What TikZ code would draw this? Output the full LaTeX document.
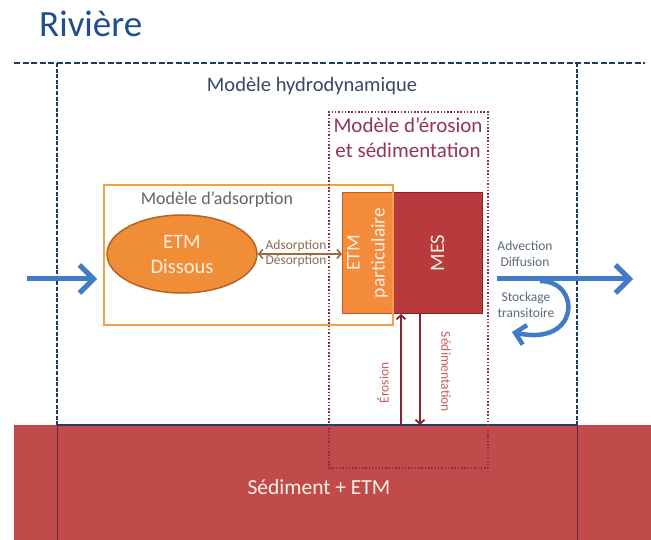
\documentclass[tikz,border=0pt]{standalone}
\usepackage{fontspec}
\setmainfont{Carlito}
\usetikzlibrary{arrows.meta,shapes.geometric,calc}
\definecolor{titleblue}{HTML}{1F4E8C}
\definecolor{hydrotext}{HTML}{3A4663}
\definecolor{dashblue}{HTML}{23396E}
\definecolor{erosdot}{HTML}{8B2E44}
\definecolor{erostext}{HTML}{94364E}
\definecolor{adsline}{HTML}{F5A04A}
\definecolor{adstext}{HTML}{6A625E}
\definecolor{dissfill}{HTML}{F08E38}
\definecolor{dissdraw}{HTML}{B8621E}
\definecolor{etmfill}{HTML}{F58C3C}
\definecolor{mesfill}{HTML}{B83A3C}
\definecolor{mesdraw}{HTML}{8A2028}
\definecolor{sedfill}{HTML}{C04B4A}
\definecolor{sedline}{HTML}{5A2A3A}
\definecolor{brownarr}{HTML}{9A6B3E}
\definecolor{browntext}{HTML}{8C6A52}
\definecolor{bluearr}{HTML}{3F7BC6}
\definecolor{advtext}{HTML}{5C6A7E}
\definecolor{eroarr}{HTML}{8E1F2F}
\definecolor{erolabel}{HTML}{C0605C}
\definecolor{paletext}{HTML}{FFF0E4}
\tikzset{
  fs/.style 2 args={font=\fontsize{#1}{#2}\selectfont},
  dashframe/.style={draw=dashblue, line width=1.5pt, dash pattern=on 4pt off 1.6pt},
  topdash/.style={draw=dashblue, line width=2pt, dash pattern=on 6pt off 2.5pt},
  dotbox/.style={draw=erosdot, line width=2pt, dash pattern=on 1.5pt off 1.8pt},
  bigblue/.style={draw=bluearr, line width=5pt, -{Straight Barb[length=14pt,width=28pt]}},
  curveblue/.style={draw=bluearr, line width=4.5pt, -{Straight Barb[length=10pt,width=20pt]}},
  adsarrow/.style={draw=brownarr, line width=1.6pt, {Straight Barb[length=4pt,width=9pt]}-{Straight Barb[length=4pt,width=9pt]}},
  eroarrow/.style={draw=eroarr, line width=1.8pt, -{Straight Barb[length=4pt,width=9pt]}},
  smalltext/.style={inner sep=0pt, font=\fontsize{13.5}{14}\selectfont},
}
\begin{document}
\begin{tikzpicture}[x=1pt,y=-1pt]
\useasboundingbox (0,0) rectangle (651,540);
\fill[white] (0,0) rectangle (651,540);

% sediment layer
\fill[sedfill] (14,425) rectangle (651,540);
\draw[dashblue, line width=1.2pt] (57,425) -- (577,425);
\draw[sedline, line width=1pt] (57,425) -- (57,540);
\draw[sedline, line width=1pt] (577,425) -- (577,540);
\node[text=paletext, inner sep=0pt, fs={21.5}{25}] (sed) at (319,487) {Sédiment + ETM};

% frame
\draw[topdash] (14,63) -- (645,63);
\draw[dashframe] (57,63) -- (57,425);
\draw[dashframe] (577,63) -- (577,425);

% title
\node[text=titleblue, inner sep=0pt, anchor=base west, fs={37}{40}] (title) at (39,37) {Rivière};
\node[text=hydrotext, inner sep=0pt, fs={20.5}{24}] (hydro) at (312,86) {Modèle hydrodynamique};

% erosion model label
\node[text=erostext, inner sep=0pt, align=center, fs={21}{25}] (eros) at (408,138) {Modèle d’érosion\\et sédimentation};

% adsorption model
\node[text=adstext, inner sep=0pt, fs={18}{22}] (adsl) at (217,200) {Modèle d’adsorption};
\node[ellipse, fill=dissfill, draw=dissdraw, line width=1.5pt, minimum width=150pt, minimum height=78pt, inner sep=0pt] (diss) at (182,254) {};
\node[text=paletext, align=center, inner sep=0pt, fs={20.5}{25}] (disst) at (diss.center) {ETM\\Dissous};

% ETM particulaire and MES boxes
\node[fill=etmfill, draw=dissdraw, line width=1pt, minimum width=50pt, minimum height=121pt, inner sep=0pt, anchor=north west] (etm) at (342,192) {};
\node[fill=mesfill, draw=mesdraw, line width=1pt, minimum width=90pt, minimum height=121pt, inner sep=0pt, anchor=north west] (mes) at (392,192) {};
\node[rotate=90, text=paletext, align=center, inner sep=0pt, fs={19.5}{25}] (etmt) at (etm.center) {ETM\\particulaire};
\node[rotate=90, text=paletext, inner sep=0pt, fs={20.5}{24}] (mest) at (mes.center) {MES};

% adsorption box outline
\node[draw=adsline, line width=2pt, minimum width=289pt, minimum height=140pt, inner sep=0pt, anchor=north west] (ads) at (103,184) {};

% erosion dotted box
\node[dotbox, minimum width=159pt, minimum height=356pt, inner sep=0pt, anchor=north west] (erobox) at (328,111) {};

% adsorption / desorption arrow
\draw[adsarrow] (diss.east) -- (diss.east -| etm.west);
\node[text=browntext, smalltext] (adst) at (296,246) {Adsorption};
\node[text=browntext, smalltext] (dest) at (296,261) {Désorption};

% erosion / sedimentation arrows
\coordinate (eroA) at (401,425);
\coordinate (sedB) at (420,425);
\draw[eroarrow] (eroA) -- (eroA |- mes.south);
\draw[eroarrow] (sedB |- mes.south) -- (sedB);
\node[rotate=90, text=erolabel, smalltext] (erot) at (383,383) {Érosion};
\node[rotate=-90, text=erolabel, smalltext] (sedt) at (446,372) {Sédimentation};

% hydrodynamic arrows
\coordinate (inA) at (27,279);
\coordinate (inB) at (97,279);
\draw[bigblue] (inA) -- (inB);
\coordinate (outA) at (497,279);
\coordinate (outB) at (633,279);
\draw[bigblue] (outA) -- (outB);
\coordinate (stA) at (540,281);
\coordinate (stB) at (512,332);
\draw[curveblue] (stA) .. controls (582,281) and (580,347) .. (stB);
\node[text=advtext, inner sep=0pt, align=center, fs={13.5}{16}] (adv) at (525,254) {Advection\\Diffusion};
\node[text=advtext, inner sep=0pt, align=center, fs={13.5}{16}] (stock) at (526,305) {Stockage\\transitoire};
\end{tikzpicture}
\end{document}
